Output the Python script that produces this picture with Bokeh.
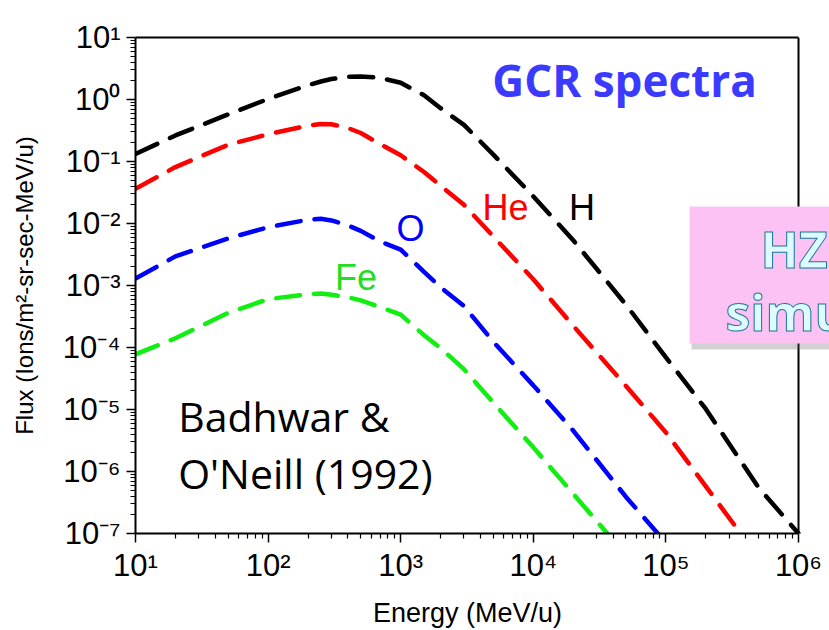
from bokeh.plotting import figure
from bokeh.models import (LogAxis, FixedTicker, CustomJSTickFormatter, Label,
                          BoxAnnotation, ColumnDataSource)
from bokeh.embed import file_html
from bokeh.resources import INLINE

# ---------------- data ----------------
energy = [10, 20, 50, 100, 200, 250, 300, 400, 500, 700, 1000, 1500, 2000, 3000,
          5000, 1e4, 2e4, 5e4, 1e5, 2e5, 5e5, 1e6]

flux_H = [0.132, 0.263, 0.575, 1.02, 1.70, 1.95, 2.14, 2.32, 2.34, 2.24, 1.86, 1.17,
          0.724, 0.389, 0.129, 0.0275, 5.37e-3, 4.90e-4, 6.92e-5, 1.02e-5,
          5.50e-7, 1.0e-7]
flux_He = [0.0363, 0.0813, 0.186, 0.275, 0.380, 0.403, 0.398, 0.347, 0.288, 0.191,
           0.126, 0.0676, 0.0407, 0.0200, 6.17e-3, 1.26e-3, 2.24e-4, 2.40e-5,
           4.27e-6, 5.75e-7, 4.07e-8, 6.3e-9]
flux_O = [1.29e-3, 2.95e-3, 5.75e-3, 8.71e-3, 0.0115, 0.0119, 0.0112, 9.3e-3,
          7.6e-3, 5.13e-3, 3.80e-3, 1.66e-3, 9.33e-4, 4.68e-4, 1.23e-4, 2.45e-5,
          4.57e-6, 3.89e-7, 7.08e-8, 1.0e-8, 7.9e-10, 1.26e-10]
flux_Fe = [7.76e-5, 1.41e-4, 3.63e-4, 6.03e-4, 7.24e-4, 7.41e-4, 7.08e-4, 6.46e-4,
           5.75e-4, 4.47e-4, 3.39e-4, 1.58e-4, 9.77e-5, 4.47e-5, 1.29e-5, 2.45e-6,
           4.37e-7, 4.47e-8, 7.9e-9, 1.6e-9, 1.3e-10, 2.0e-11]

species = ["H", "He", "O", "Fe"]
colors = ["#000000", "#ff0000", "#0000ff", "#11ee11"]
label_colors = ["#000000", "#ff0000", "#0000ff", "#22dd22"]
label_x = [1.86e4, 4.14e3, 9.3e2, 3.19e2]
label_y = [1.79e-2, 1.79e-2, 8.4e-3, 1.36e-3]

x_major = [1e1, 1e2, 1e3, 1e4, 1e5, 1e6]
y_major = [1e-7, 1e-6, 1e-5, 1e-4, 1e-3, 1e-2, 1e-1, 1e0, 1e1]

# ---------------- figure ----------------
PX_X = 132.6   # pixels per decade along x
X_END = 10 ** (1 + 694 / PX_X)   # frame runs to the right page edge

p = figure(width=829, height=630, x_axis_type="log", y_axis_type="log",
           x_range=(10, X_END), y_range=(1e-7, 10),
           output_backend="svg", toolbar_location=None,
           min_border_left=135, min_border_right=0,
           min_border_top=37, min_border_bottom=97,
           background_fill_color=None, border_fill_color="white")
p.grid.visible = False
p.outline_line_color = None

def minors(majors):
    out = []
    for m in majors[:-1]:
        for k in range(2, 10):
            out.append(m * k)
    return out

x_minor = minors(x_major)
y_minor = minors(y_major)
xt = FixedTicker(ticks=x_major, minor_ticks=x_minor)
yt = FixedTicker(ticks=y_major, minor_ticks=y_minor)

sup_code = """
const sup = {"0":"\u2070","1":"\u00b9","2":"\u00b2","3":"\u00b3","4":"\u2074",
             "5":"\u2075","6":"\u2076","7":"\u2077","8":"\u2078","9":"\u2079","-":"\u207b"};
const e = Math.round(Math.log10(tick));
let s = "";
for (const c of String(e)) { s += sup[c]; }
return "10" + s;
"""
blank_code = "return '';"

def style_axis(ax, ticker, labels=True):
    ax.ticker = ticker
    ax.formatter = CustomJSTickFormatter(code=sup_code if labels else blank_code)
    ax.axis_line_color = "black"
    ax.axis_line_width = 2
    ax.major_tick_line_color = "black"
    ax.minor_tick_line_color = "black"
    ax.major_tick_line_width = 1.5
    ax.minor_tick_line_width = 1.2
    ax.major_tick_in = 0
    ax.minor_tick_in = 0
    ax.major_tick_out = 9
    ax.minor_tick_out = 5
    ax.major_label_text_font = "Liberation Sans"
    ax.major_label_text_font_size = "31px" if labels else "0px"
    ax.major_label_text_color = "black"
    ax.axis_label_text_font = "Liberation Sans"
    ax.axis_label_text_font_style = "normal"
    ax.axis_label_text_color = "black"

style_axis(p.xaxis[0], xt)
style_axis(p.yaxis[0], yt)
p.xaxis[0].bounds = (10, 1e6)
# trailing no-break spaces re-centre the label under the 10^1..10^6 span
p.xaxis[0].axis_label = "Energy (MeV/u)" + "\u00a0" * 4
p.xaxis[0].axis_label_text_font_size = "27px"
p.xaxis[0].major_label_standoff = 5
p.xaxis[0].axis_label_standoff = 12
p.yaxis[0].axis_label = "Flux (Ions/m\u00b2-sr-sec-MeV/u)"
p.yaxis[0].axis_label_text_font_size = "24px"
p.yaxis[0].major_label_standoff = 6
p.yaxis[0].axis_label_standoff = 22

top_ax = LogAxis()
style_axis(top_ax, xt, labels=False)
top_ax.major_tick_out = 0
top_ax.minor_tick_out = 0
top_ax.major_tick_line_color = None
top_ax.minor_tick_line_color = None
top_ax.bounds = (10, 1e6)
p.add_layout(top_ax, "above")

# ---------------- curves ----------------
src = ColumnDataSource(dict(E=energy, H=flux_H, He=flux_He, O=flux_O, Fe=flux_Fe))
for name, c in zip(species, colors):
    p.line("E", name, source=src, line_color=c, line_width=4.5,
           line_dash="24 14", line_cap="round")

# right spine at 10^6
spine_src = ColumnDataSource(dict(xs=[[1e6, 1e6]], ys=[[1e-7, 10]]))
p.multi_line("xs", "ys", source=spine_src, line_color="#000000", line_width=2)

for name, c, lx, ly in zip(species, label_colors, label_x, label_y):
    p.add_layout(Label(x=lx, y=ly, text=name, text_color=c,
                       text_font="Liberation Sans", text_font_size="36px",
                       text_baseline="alphabetic", text_align="left"))

# ---------------- annotations ----------------
p.add_layout(Label(x=4.84e5, y=2.03, text="GCR spectra", text_color="#3b3bff",
                   text_font="Open Sans", text_font_style="bold",
                   text_font_size="44px", text_align="right",
                   text_baseline="alphabetic"))
p.add_layout(Label(x=21.0, y=8.0e-6, text="Badhwar &", text_color="black",
                   text_font="Open Sans", text_font_size="41px",
                   text_baseline="alphabetic"))
p.add_layout(Label(x=21.0, y=9.6e-7, text="O'Neill (1992)", text_color="black",
                   text_font="Open Sans", text_font_size="41px",
                   text_baseline="alphabetic"))

# pink call-out box at the right edge (partially cut off in the original)
p.add_layout(BoxAnnotation(left=1.56e5, right=1e8, top=1.56e-2, bottom=9.3e-5,
                           fill_color="#666666", fill_alpha=0.3, line_color=None))
p.add_layout(BoxAnnotation(left=1.51e5, right=1e8, top=1.88e-2, bottom=1.16e-4,
                           fill_color="#fbc2f3", fill_alpha=1.0, line_color=None))
p.add_layout(Label(x=5.16e5, y=3.95e-3, text="HZETRN", text_color="#dcfcff",
                   text_font="Open Sans", text_font_style="bold",
                   text_font_size="50px", text_baseline="alphabetic",
                   text_outline_color="#1d7496"))
p.add_layout(Label(x=2.81e5, y=3.67e-4, text="simulation", text_color="#dcfcff",
                   text_font="Open Sans", text_font_style="bold",
                   text_font_size="50px", text_baseline="alphabetic",
                   text_outline_color="#1d7496"))

open("out.html", "w").write(file_html(p, INLINE))
